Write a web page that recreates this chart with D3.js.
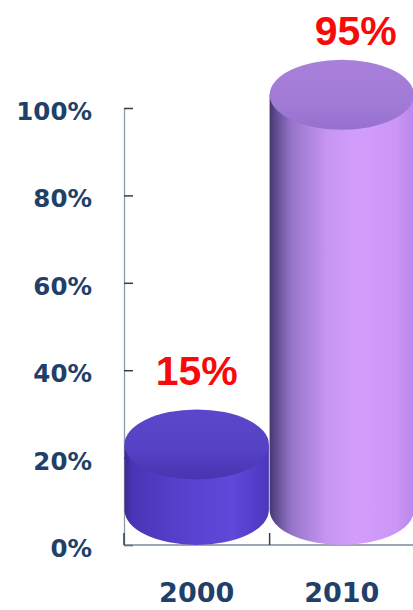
<!DOCTYPE html>
<html>
<head>
<meta charset="utf-8">
<script src="https://cdn.jsdelivr.net/npm/d3@7"></script>
<style>
  html, body { margin: 0; padding: 0; background: #ffffff; }
  svg { display: block; }
</style>
</head>
<body>
<div id="chart"></div>
<script>
// ---- data ----
const categories = ["2000", "2010"];
const values = [15, 95];
const valueLabels = ["15%", "95%"];
const yTicks = [0, 20, 40, 60, 80, 100];
const yTickLabels = ["0%", "20%", "40%", "60%", "80%", "100%"];

// ---- styles ----
const bodyStops = [
  [["0%", "#3a2a8c"], ["5%", "#4934b6"], ["45%", "#5a42d0"], ["75%", "#5f48da"], ["100%", "#4d37be"]],
  [["0%", "#47366a"], ["4%", "#5d4a8e"], ["15%", "#9674c8"], ["40%", "#c796f2"], ["60%", "#d39dfc"], ["88%", "#cb96f6"], ["100%", "#b887e8"]]
];
const topStops = [
  [["0%", "#5b47cb"], ["60%", "#5541c3"], ["100%", "#4833b0"]],
  [["0%", "#a880dc"], ["60%", "#a27bd7"], ["100%", "#9570cc"]]
];
const labelDx = [0, 14];
const labelDy = [-24, -15];

const W = 413, H = 610;
const svg = d3.select("#chart").append("svg").attr("width", W).attr("height", H);
const defs = svg.append("defs");

const x = d3.scaleBand().domain(categories).range([124.5, 414]).paddingInner(0.005).paddingOuter(0);
const y = d3.scaleLinear().domain([0, 100]).range([545, 108]);
const ry = 35;

// gradients
categories.forEach((c, i) => {
  const g = defs.append("linearGradient").attr("id", "body" + i)
    .attr("x1", "0%").attr("x2", "100%").attr("y1", "0%").attr("y2", "0%");
  bodyStops[i].forEach(s => g.append("stop").attr("offset", s[0]).attr("stop-color", s[1]));
  const t = defs.append("linearGradient").attr("id", "top" + i)
    .attr("x1", "0%").attr("x2", "0%").attr("y1", "0%").attr("y2", "100%");
  topStops[i].forEach(s => t.append("stop").attr("offset", s[0]).attr("stop-color", s[1]));
});

// y axis (ticks point inward)
const yAxis = d3.axisLeft(y).tickValues(yTicks)
  .tickFormat((d, i) => yTickLabels[i])
  .tickSize(-9).tickSizeOuter(0).tickPadding(32);
const ya = svg.append("g").attr("transform", "translate(124,0)").call(yAxis);
ya.select(".domain").attr("stroke", "#8f9aa5").attr("stroke-width", 1.3);
ya.selectAll(".tick line").attr("stroke", "#2f3d4d").attr("stroke-width", 1.5);
ya.selectAll(".tick text")
  .attr("fill", "#1f4068")
  .attr("font-family", "'DejaVu Sans', Verdana, sans-serif")
  .attr("font-weight", "bold")
  .attr("font-size", "24.5px")
  .attr("dy", "0.35em")
  .attr("y", 3);

// bottom axis
const xa = svg.append("g");
xa.append("line").attr("x1", 124).attr("x2", W).attr("y1", y(0)).attr("y2", y(0))
  .attr("stroke", "#7d8a97").attr("stroke-width", 1.5);
const bounds = [x(categories[0]) - 0.5].concat(categories.slice(1).map(c => x(c)));
xa.selectAll("line.tk").data(bounds).enter().append("line").attr("class", "tk")
  .attr("x1", d => d).attr("x2", d => d).attr("y1", y(0)).attr("y2", y(0) - 12)
  .attr("stroke", "#2f3d4d").attr("stroke-width", 1.5);
xa.selectAll("text").data(categories).enter().append("text")
  .attr("x", d => x(d) + x.bandwidth() / 2)
  .attr("y", 602)
  .attr("text-anchor", "middle")
  .attr("fill", "#1f4068")
  .attr("font-family", "'DejaVu Sans', Verdana, sans-serif")
  .attr("font-weight", "bold")
  .attr("font-size", "27px")
  .text(d => d);

// cylinders
const bars = svg.append("g").selectAll("g").data(categories).enter().append("g");
bars.each(function(c, i) {
  const g = d3.select(this);
  const x0 = x(c), x1 = x(c) + x.bandwidth();
  const rx = x.bandwidth() / 2, cx = x0 + rx;
  const baseCy = y(0) - ry;
  const topCy = y(values[i]) - ry;
  g.append("path")
    .attr("d", `M${x0},${topCy} V${baseCy} A${rx},${ry} 0 0 0 ${x1},${baseCy} V${topCy} Z`)
    .attr("fill", `url(#body${i})`);
  g.append("ellipse")
    .attr("cx", cx).attr("cy", topCy).attr("rx", rx).attr("ry", ry)
    .attr("fill", `url(#top${i})`);
  g.append("text")
    .attr("x", cx + labelDx[i])
    .attr("y", topCy - ry + labelDy[i])
    .attr("text-anchor", "middle")
    .attr("fill", "#f80a0a")
    .attr("font-family", "'Liberation Sans', Arial, sans-serif")
    .attr("font-weight", "bold")
    .attr("font-size", "41px")
    .text(valueLabels[i]);
});
</script>
</body>
</html>
